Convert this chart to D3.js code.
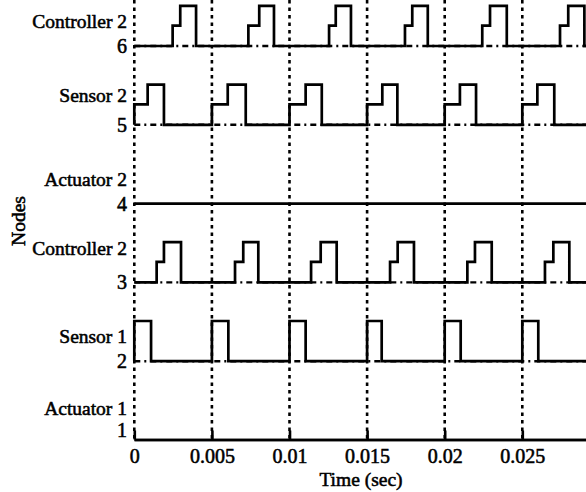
<!DOCTYPE html>
<html>
<head>
<meta charset="utf-8">
<script src="https://cdn.jsdelivr.net/npm/d3@7/dist/d3.min.js"></script>
<style>
  html, body { margin: 0; padding: 0; background: #fff; }
  svg { display: block; }
  text { font-family: "Liberation Serif", "DejaVu Serif", serif; fill: #000; stroke: #000; stroke-width: 0.55px; }
</style>
</head>
<body>
<svg id="chart" width="586" height="492"></svg>
<script>
// ---------- data ----------
const xTicks = [0, 0.005, 0.01, 0.015, 0.02, 0.025];
const xTickLabels = ["0", "0.005", "0.01", "0.015", "0.02", "0.025"];
const yTicks = [1, 2, 3, 4, 5, 6];
const nodeNames = ["Actuator 1", "Sensor 1", "Controller 2", "Actuator 2", "Sensor 2", "Controller 2"];
const nodeLabelLevels = [1.41, 2.32, 3.43, 4.31, 5.37, 6.32];
const stepLevel = 0.26;   // first (waiting) level above baseline
const highLevel = 0.51;   // running level above baseline

// pulses: [step-up time, high time, fall time]
const controller2TopPulses = [
  [0.00247, 0.00296, 0.00398],
  [0.00735, 0.00805, 0.00900],
  [0.01255, 0.01298, 0.01396],
  [0.01744, 0.01791, 0.01891],
  [0.02242, 0.02292, 0.02400],
  [0.02743, 0.02796, 0.02900]
];
const sensor2Pulses = [
  [0.0000, 0.00086, 0.00191],
  [0.0050, 0.00602, 0.00718],
  [0.0100, 0.01104, 0.01208],
  [0.0150, 0.01598, 0.01695],
  [0.0200, 0.02098, 0.02202],
  [0.0250, 0.02597, 0.02706]
];
const controller2Pulses = [
  [0.00144, 0.00191, 0.00301],
  [0.00649, 0.00702, 0.00799],
  [0.01139, 0.01201, 0.01304],
  [0.01648, 0.01697, 0.01802],
  [0.02146, 0.02195, 0.02303],
  [0.02646, 0.02700, 0.02803]
];
// pulses: [rise time, fall time]
const sensor1Pulses = [
  [0.000, 0.00108],
  [0.005, 0.00606],
  [0.010, 0.01104],
  [0.015, 0.01594],
  [0.020, 0.02103],
  [0.025, 0.02603]
];
const actuator1Pulses = [];
const actuator2Pulses = [];

const xMax = 0.03;
const yMin = 1, yMax = 6.584;

// ---------- scales ----------
const svg = d3.select("#chart");
const x = d3.scaleLinear().domain([0, xMax]).range([134.3, 134.3 + 15520 * xMax]);
const y = d3.scaleLinear().domain([yMin, yMax]).range([440, 0]);

// ---------- grid (dotted verticals) ----------
svg.append("g").selectAll("line").data(xTicks).join("line")
  .attr("x1", d => x(d)).attr("x2", d => x(d))
  .attr("y1", y(yMax)).attr("y2", y(yMin))
  .attr("stroke", "#000").attr("stroke-width", 2.6)
  .attr("stroke-dasharray", "3.5,4");

// ---------- signals ----------
const line = d3.line().x(d => x(d[0])).y(d => y(d[1])).curve(d3.curveStepAfter);

function threeLevel(base, pulses) {
  const pts = [[0, base]];
  pulses.forEach(p => {
    pts.push([p[0], base + stepLevel]);
    pts.push([p[1], base + highLevel]);
    pts.push([p[2], base]);
  });
  pts.push([xMax, base]);
  return pts;
}
function twoLevel(base, pulses) {
  const pts = [[0, base]];
  pulses.forEach(p => {
    pts.push([p[0], base + highLevel]);
    pts.push([p[1], base]);
  });
  pts.push([xMax, base]);
  return pts;
}

const signals = [
  {base: 1, n: actuator1Pulses.length, pts: twoLevel(1, actuator1Pulses)},
  {base: 2, n: sensor1Pulses.length, pts: twoLevel(2, sensor1Pulses)},
  {base: 3, n: controller2Pulses.length, pts: threeLevel(3, controller2Pulses)},
  {base: 4, n: actuator2Pulses.length, pts: twoLevel(4, actuator2Pulses)},
  {base: 5, n: sensor2Pulses.length, pts: threeLevel(5, sensor2Pulses)},
  {base: 6, n: controller2TopPulses.length, pts: threeLevel(6, controller2TopPulses)}
];

// dash-dot baselines (visible beneath the raised parts)
svg.append("g").selectAll("line").data(signals.filter(s => s.n > 0)).join("line")
  .attr("x1", x(0)).attr("x2", x(xMax))
  .attr("y1", d => y(d.base)).attr("y2", d => y(d.base))
  .attr("stroke", "#000").attr("stroke-width", 2.4)
  .attr("stroke-dasharray", "6,4,2,4");

// solid signal lines
svg.append("g").selectAll("path").data(signals).join("path")
  .attr("d", d => line(d.pts))
  .attr("fill", "none").attr("stroke", "#000")
  .attr("stroke-width", 2.7).attr("stroke-linejoin", "miter");

// ---------- x axis ----------
const xAxis = d3.axisBottom(x).tickValues(xTicks)
  .tickFormat((d, i) => xTickLabels[i]).tickSizeInner(-9).tickSizeOuter(0).tickPadding(6);
const gx = svg.append("g").attr("transform", `translate(0,${y(yMin) - 0.5})`).call(xAxis);
gx.select(".domain").attr("stroke", "#000").attr("stroke-width", 2.6);
gx.selectAll(".tick line").attr("stroke", "#000").attr("stroke-width", 2.6);
gx.selectAll(".tick text").attr("font-size", 20).attr("dy", "0.85em")
  .style("font-family", "'Liberation Serif', serif")
  .style("stroke", "#000").style("stroke-width", "0.55px");

// ---------- y tick labels ----------
svg.append("g").selectAll("text").data(yTicks).join("text")
  .attr("x", 127)
  .attr("y", d => y(d) + (d === yMin ? -10 : 0))
  .attr("dy", "0.35em")
  .attr("text-anchor", "end").attr("font-size", 20)
  .text(d => d);

// node name labels
svg.append("g").selectAll("text").data(nodeNames).join("text")
  .attr("x", 127)
  .attr("y", (d, i) => y(nodeLabelLevels[i]))
  .attr("dy", "0.35em")
  .attr("text-anchor", "end").attr("font-size", 19.5)
  .text(d => d);

// axis titles
svg.append("text").attr("x", 361).attr("y", 486)
  .attr("text-anchor", "middle").attr("font-size", 19.5).text("Time (sec)");
svg.append("text").attr("transform", "translate(25,221) rotate(-90)")
  .attr("text-anchor", "middle").attr("font-size", 19.5).text("Nodes");
</script>
</body>
</html>
